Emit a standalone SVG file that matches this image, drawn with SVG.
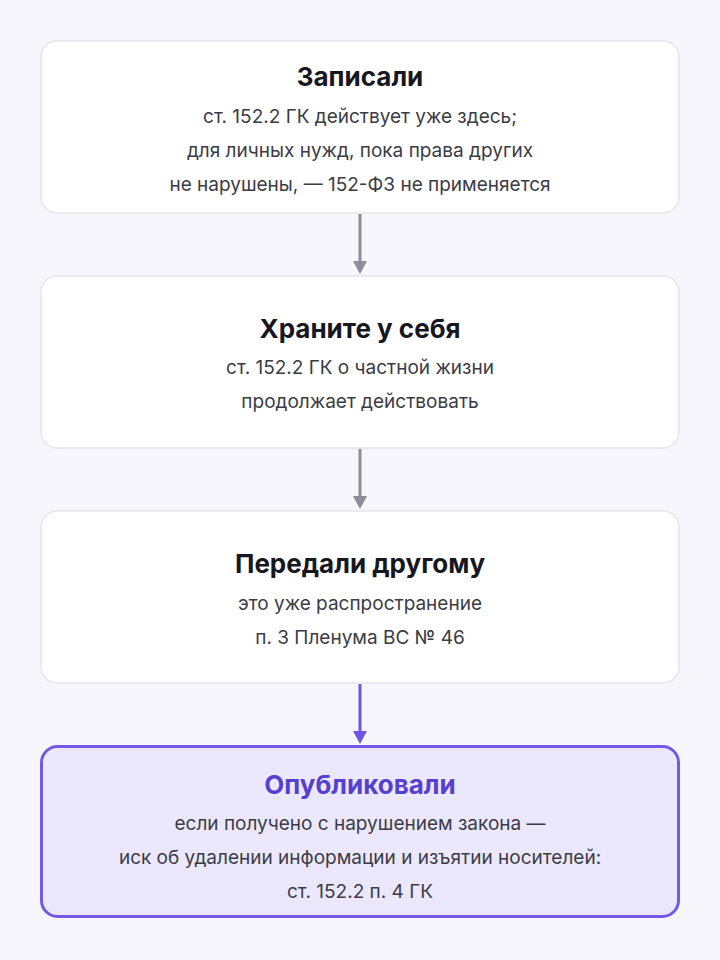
<svg xmlns="http://www.w3.org/2000/svg" width="720" height="960" viewBox="0 0 720 960">
<defs>
<style>
.box{fill:#ffffff;stroke:#e5e5ec;stroke-width:1.5}
.hl{fill:#ebe8fd;stroke:#7259e6;stroke-width:3}
.t{font-family:Inter,"Noto Sans",sans-serif;font-weight:700;font-size:26px;fill:#17171f;text-anchor:middle}
.th{fill:#5540d0}
.b{font-family:Inter,"Noto Sans",sans-serif;font-size:19px;fill:#3b3b45;text-anchor:middle}
.c{stroke:#8e8d98;stroke-width:3;fill:none}
.cp{stroke:#6e55e3;stroke-width:3;fill:none}
</style>
</defs>
<rect width="720" height="960" fill="#f7f6fc"/>
<g id="connectors">
<line class="c" x1="360" y1="214" x2="360" y2="262"/>
<polygon points="353,261 367,261 360,274" fill="#8e8d98"/>
<line class="c" x1="360" y1="449" x2="360" y2="497"/>
<polygon points="353,496 367,496 360,509" fill="#8e8d98"/>
<line class="cp" x1="360" y1="684" x2="360" y2="732"/>
<polygon points="353,731 367,731 360,744" fill="#6e55e3"/>
</g>
<g id="node1">
<rect class="box" x="41" y="41" width="638" height="172" rx="16"/>
<text class="t" x="360" y="86">Записали</text>
<text class="b" x="360" y="123">ст. 152.2 ГК действует уже здесь;</text>
<text class="b" x="360" y="157">для личных нужд, пока права других</text>
<text class="b" x="360" y="191">не нарушены, — 152-ФЗ не применяется</text>
</g>
<g id="node2">
<rect class="box" x="41" y="276" width="638" height="172" rx="16"/>
<text class="t" x="360" y="338">Храните у себя</text>
<text class="b" x="360" y="374">ст. 152.2 ГК о частной жизни</text>
<text class="b" x="360" y="408">продолжает действовать</text>
</g>
<g id="node3">
<rect class="box" x="41" y="511" width="638" height="172" rx="16"/>
<text class="t" x="360" y="573">Передали другому</text>
<text class="b" x="360" y="610">это уже распространение</text>
<text class="b" x="360" y="644">п. 3 Пленума ВС № 46</text>
</g>
<g id="node4">
<rect class="hl" x="41.5" y="746.5" width="637" height="170" rx="16"/>
<text class="t th" x="360" y="794">Опубликовали</text>
<text class="b" x="360" y="830">если получено с нарушением закона —</text>
<text class="b" x="360" y="864">иск об удалении информации и изъятии носителей:</text>
<text class="b" x="360" y="898">ст. 152.2 п. 4 ГК</text>
</g>
</svg>
